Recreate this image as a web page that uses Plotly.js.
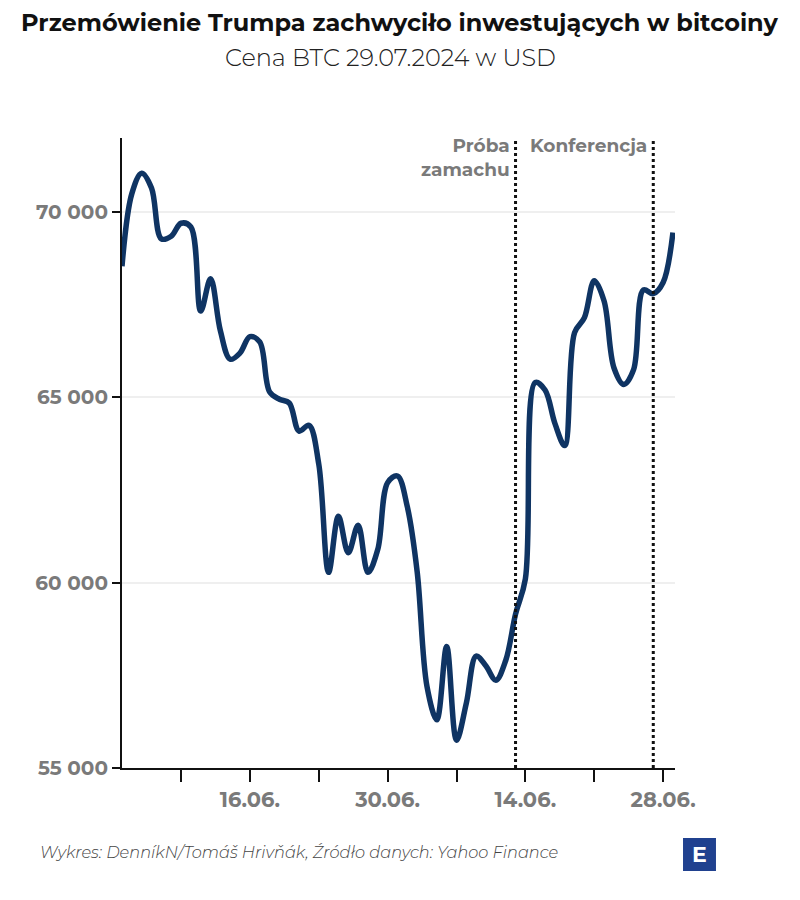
<!DOCTYPE html>
<html>
<head>
<meta charset="utf-8">
<script src="https://cdn.plot.ly/plotly-3.0.1.min.js"></script>
<style>html,body{margin:0;padding:0;background:#fff}#chart{width:800px;height:900px}</style>
</head>
<body>
<div id="chart"></div>
<script>
// Daily dates 03.06.2024 – 29.07.2024
const startDate = '2024-06-03';
const prices = [
  68540, 70500, 71050, 70650, 69280, 69350, 69700, 69600, 67330, 68200,
  66800, 66030, 66200, 66640, 66500, 65150, 64950, 64850, 64090, 64250,
  63200, 60280, 61790, 60810, 61550, 60280, 60900, 62700, 62880, 62050,
  60300, 57200, 56300, 58280, 55750, 56750, 58020, 57750, 57370, 57900,
  59150, 60100, 65400, 65200, 64300, 63700, 66750, 67150, 68150, 67600,
  65800, 65350, 65750, 67900, 67800, 68100, 69450
];
const xTickVals = ['2024-06-09','2024-06-16','2024-06-23','2024-06-30','2024-07-07','2024-07-14','2024-07-21','2024-07-28'];
const xTickText = ['', '16.06.', '', '30.06.', '', '14.06.', '', '28.06.'];
const yTickVals = [55000, 60000, 65000, 70000];
const yTickText = ['55 000', '60 000', '65 000', '70 000'];
const eventDates = ['2024-07-13', '2024-07-27'];
const eventLabels = ['Próba<br>zamachu', 'Konferencja'];

function addDays(iso, n) {
  const d = new Date(iso + 'T00:00:00Z');
  d.setUTCDate(d.getUTCDate() + n);
  return d.toISOString().slice(0, 10);
}
const dates = prices.map((_, i) => addDays(startDate, i));

const grey = '#7a7a7a';
const FONT = 'Montserrat, "Open Sans", sans-serif';

const shapes = eventDates.map(d => ({
  type: 'line', xref: 'x', yref: 'paper', x0: d, x1: d, y0: 0, y1: 1,
  line: {color: '#111', width: 3, dash: '3px,3px'}, layer: 'above'
}));
// logo square
shapes.push({type: 'rect', xref: 'paper', yref: 'paper', x0: 1.0145, x1: 1.0741, y0: -0.1635, y1: -0.1111,
  fillcolor: '#20418f', line: {width: 0}});

const annotations = [
  {xref: 'paper', yref: 'paper', x: 0.5027, y: 1.184, text: '<b>Przemówienie Trumpa zachwyciło inwestujących w bitcoiny</b>',
   showarrow: false, xanchor: 'center', yanchor: 'middle', font: {family: FONT, size: 24, color: '#111'}},
  {xref: 'paper', yref: 'paper', x: 0.4855, y: 1.127, text: 'Cena BTC 29.07.2024 w USD',
   showarrow: false, xanchor: 'center', yanchor: 'middle', font: {family: FONT, size: 24, color: '#222', weight: 300}},
  {xref: 'paper', yref: 'paper', x: -0.152, y: -0.1333, text: '<i>Wykres: DenníkN/Tomáš Hrivňák, Źródło danych: Yahoo Finance</i>',
   showarrow: false, xanchor: 'left', yanchor: 'middle', font: {family: FONT, size: 16.2, color: '#444', weight: 300}},
  {xref: 'paper', yref: 'paper', x: 1.0443, y: -0.1373, text: '<b>E</b>',
   showarrow: false, xanchor: 'center', yanchor: 'middle', font: {family: FONT, size: 22, color: '#fff'}}
];
eventDates.forEach((d, i) => {
  annotations.push({xref: 'x', yref: 'paper', x: d, y: 1.01, text: '<b>' + eventLabels[i] + '</b>',
    showarrow: false, xanchor: 'right', yanchor: 'top', align: 'right', xshift: -4,
    font: {family: FONT, size: 18.5, color: grey}});
});

const trace = {
  type: 'scatter', mode: 'lines', x: dates, y: prices,
  line: {color: '#0f3463', width: 5.5, shape: 'spline', smoothing: 1},
  hoverinfo: 'skip'
};

const layout = {
  width: 800, height: 900,
  margin: {l: 122, r: 125, t: 138, b: 132},
  paper_bgcolor: '#fff', plot_bgcolor: '#fff',
  showlegend: false,
  font: {family: FONT},
  xaxis: {
    type: 'date', range: ['2024-06-03', '2024-07-29 05:00'],
    tickmode: 'array', tickvals: xTickVals, ticktext: xTickText,
    ticks: 'outside', ticklen: 12, tickwidth: 2, tickcolor: '#111',
    showline: true, linecolor: '#111', linewidth: 2,
    showgrid: false, zeroline: false,
    tickfont: {family: FONT, size: 21, color: grey, weight: 700}
  },
  yaxis: {
    range: [55000, 72000],
    tickmode: 'array', tickvals: yTickVals, ticktext: yTickText,
    ticks: 'outside', ticklen: 8, tickwidth: 2, tickcolor: '#111',
    showline: true, linecolor: '#111', linewidth: 2,
    showgrid: true, gridcolor: '#efefef', gridwidth: 2, zeroline: false,
    tickfont: {family: FONT, size: 20, color: grey, weight: 700}
  },
  shapes: shapes,
  annotations: annotations
};

Plotly.newPlot('chart', [trace], layout, {displayModeBar: false, staticPlot: true});
</script>
</body>
</html>
